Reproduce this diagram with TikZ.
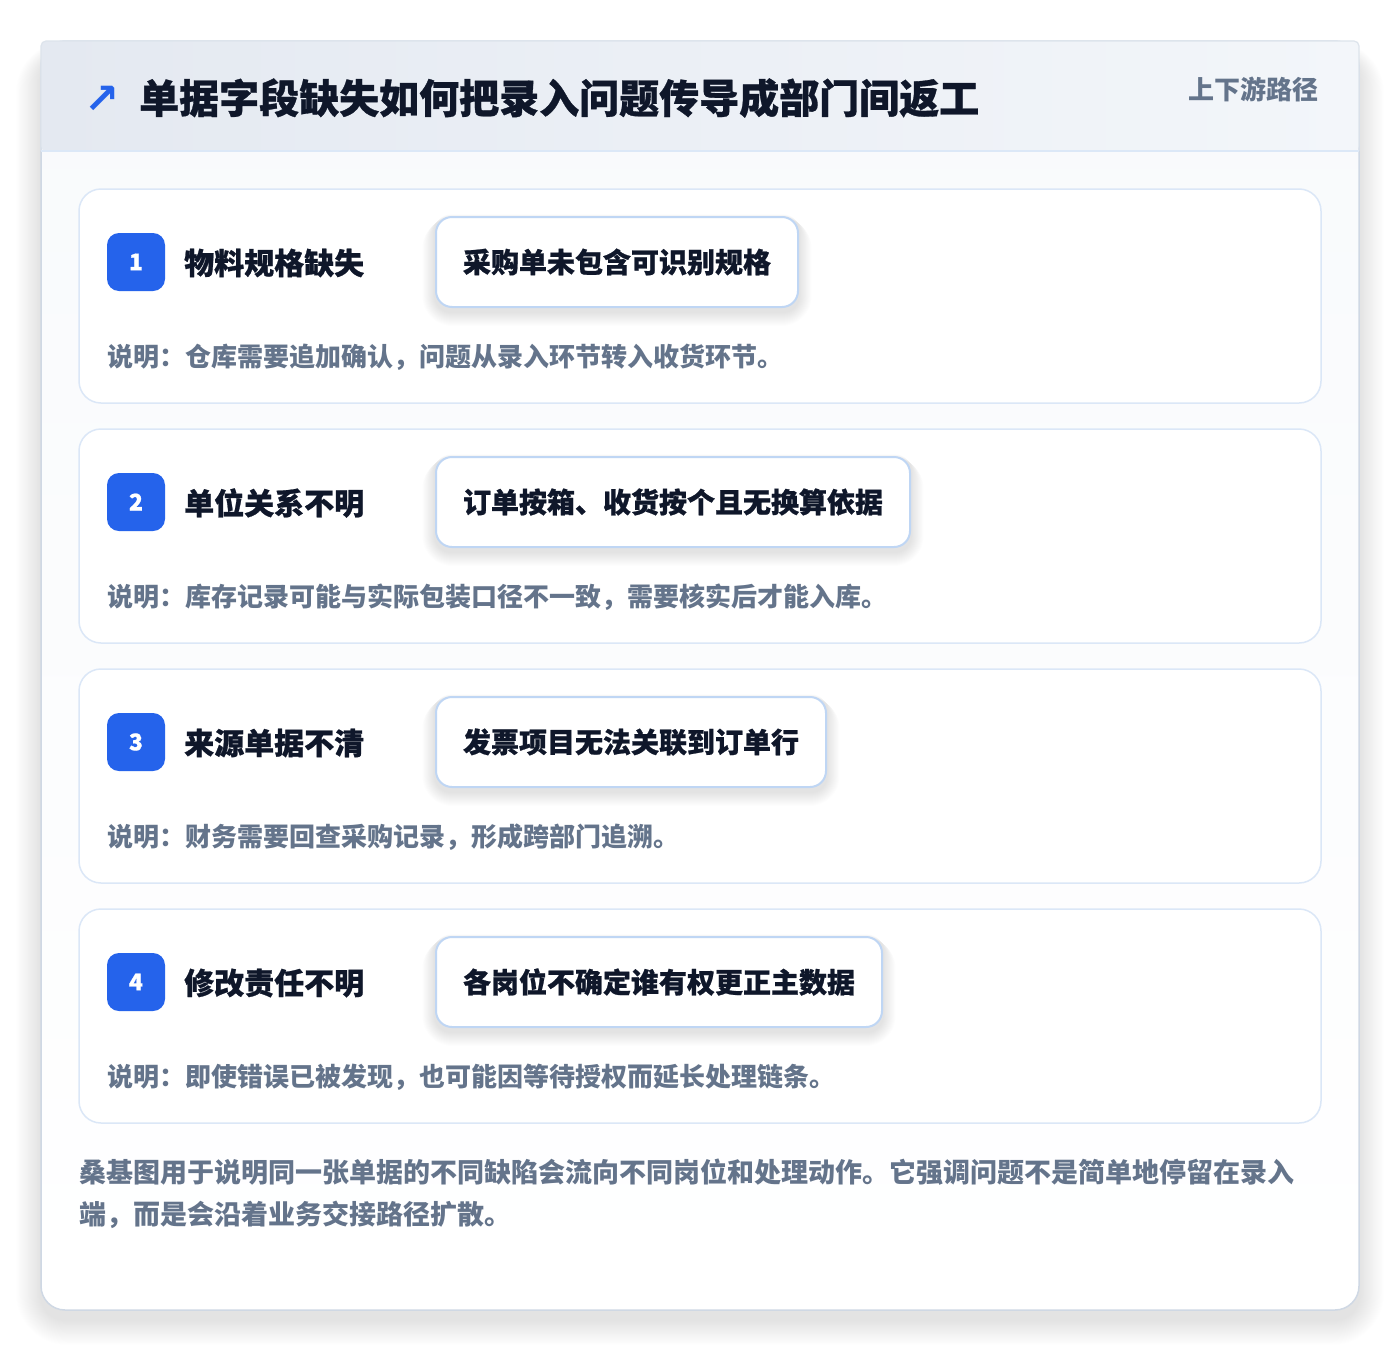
\documentclass[tikz,border=0pt]{standalone}
\usepackage{fontspec}
\newfontfamily\cjk{Noto Sans CJK SC}
\newfontfamily\cjkheavy{Noto Sans CJK SC}[BoldFeatures={FakeBold=0.8}]
\newfontfamily\djv{DejaVu Sans}
\definecolor{ink}{HTML}{0F172A}
\definecolor{muted}{HTML}{64748B}
\definecolor{accent}{HTML}{2563EB}
\definecolor{hdrL}{HTML}{E4E9F1}
\definecolor{hdrR}{HTML}{F3F6FA}
\definecolor{hdrline}{HTML}{DCE8F7}
\definecolor{cardtop}{HTML}{F8FAFC}
\definecolor{cardborder}{HTML}{CFD8E4}
\definecolor{rowline}{HTML}{DBE7F7}
\definecolor{boxline}{HTML}{BFD6F4}
\pgfdeclarelayer{back}
\pgfdeclarelayer{shad}
\pgfsetlayers{back,shad,main}
\begin{document}
\begin{tikzpicture}[x=1pt,y=-1pt,
  rowbox/.style={draw=rowline, fill=white, line width=1.5pt, rounded corners=22pt,
    minimum width=1242pt, minimum height=214pt, inner sep=0pt},
  badge/.style={fill=accent, rounded corners=12pt, minimum width=58pt, minimum height=58pt,
    inner sep=0pt, text=white, font=\cjkheavy\bfseries\fontsize{23}{23}\selectfont},
  rowlabel/.style={anchor=west, inner sep=0pt, text=ink, font=\cjkheavy\bfseries\fontsize{30}{30}\selectfont},
  issuebox/.style={anchor=west, draw=boxline, fill=white, line width=2pt, rounded corners=16pt,
    minimum height=90pt, inner xsep=27pt, inner ysep=0pt, text=ink,
    font=\cjkheavy\bfseries\fontsize{28}{28}\selectfont},
  desc/.style={anchor=west, inner sep=0pt, text=muted, font=\cjk\bfseries\fontsize{26}{26}\selectfont}
]
\useasboundingbox (0,0) rectangle (1400,1352);
\begin{pgfonlayer}{back}
\fill[white] (0,0) rectangle (1400,1352);
% card shadow
\foreach \k in {1,...,28}{
  \fill[black, opacity=0.004, rounded corners=24pt+\k pt]
    (41-\k*0.9,41-\k*0.5+14) rectangle (1359+\k*0.9,1310+\k*0.9+10);
}
% card
\path[top color=cardtop, bottom color=white, rounded corners=24pt]
  (41,41) rectangle (1359,1310);
\draw[cardborder, line width=1.5pt, rounded corners=24pt] (41,41) rectangle (1359,1310);
% header band (square top corners over the rounded card)
\shade[left color=hdrL, right color=hdrR, rounded corners=5pt] (41,41) rectangle (1359,151);
\draw[cardborder!70!white, line width=1.2pt, rounded corners=5pt] (41,151) -- (41,41) -- (1359,41) -- (1359,151);
\draw[hdrline, line width=1.5pt] (41,151) -- (1359,151);
\end{pgfonlayer}
% header texts
\node[anchor=center, inner sep=0pt, text=accent, font=\djv\bfseries\fontsize{42}{42}\selectfont] (icon) at (102,100) {↗};
\node[anchor=west, inner sep=0pt, text=ink, font=\cjkheavy\bfseries\fontsize{40}{40}\selectfont] (title) at (139,98) {单据字段缺失如何把录入问题传导成部门间返工};
\node[anchor=east, inner sep=0pt, text=muted, font=\cjk\bfseries\fontsize{26}{26}\selectfont] (tag) at (1319,89) {上下游路径};
% rows
\foreach \i/\lab/\issue/\txt in {
  1/物料规格缺失/采购单未包含可识别规格/说明：仓库需要追加确认，问题从录入环节转入收货环节。,
  2/单位关系不明/订单按箱、收货按个且无换算依据/说明：库存记录可能与实际包装口径不一致，需要核实后才能入库。,
  3/来源单据不清/发票项目无法关联到订单行/说明：财务需要回查采购记录，形成跨部门追溯。,
  4/修改责任不明/各岗位不确定谁有权更正主数据/说明：即使错误已被发现，也可能因等待授权而延长处理链条。}{
  \pgfmathsetmacro{\dy}{240*(\i-1)}
  \begin{pgfonlayer}{back}
    \node[rowbox] (row\i) at (700,296+\dy) {};
  \end{pgfonlayer}
  \node[badge] (badge\i) at (136,262+\dy) {\i};
  \node[rowlabel] (label\i) at (184,263+\dy) {\lab};
  \node[issuebox] (issue\i) at (435,262+\dy) {\issue};
  \node[desc] (desc\i) at (107,357+\dy) {\txt};
  \begin{pgfonlayer}{shad}
    \foreach \k in {1,...,14}{
      \fill[black, opacity=0.006, rounded corners=16pt+\k pt]
        ([xshift=-\k*0.9pt, yshift=-\k*0.3pt+2pt]issue\i.north west) rectangle
        ([xshift=\k*0.9pt, yshift=-\k*1pt-4pt]issue\i.south east);
    }
  \end{pgfonlayer}
}
% footer
\node[anchor=north west, inner sep=0pt, align=left, text=muted,
  font=\cjk\bfseries\fontsize{27}{42}\selectfont] (note) at (79,1159)
  {桑基图用于说明同一张单据的不同缺陷会流向不同岗位和处理动作。它强调问题不是简单地停留在录入\\端，而是会沿着业务交接路径扩散。};
\end{tikzpicture}
\end{document}
